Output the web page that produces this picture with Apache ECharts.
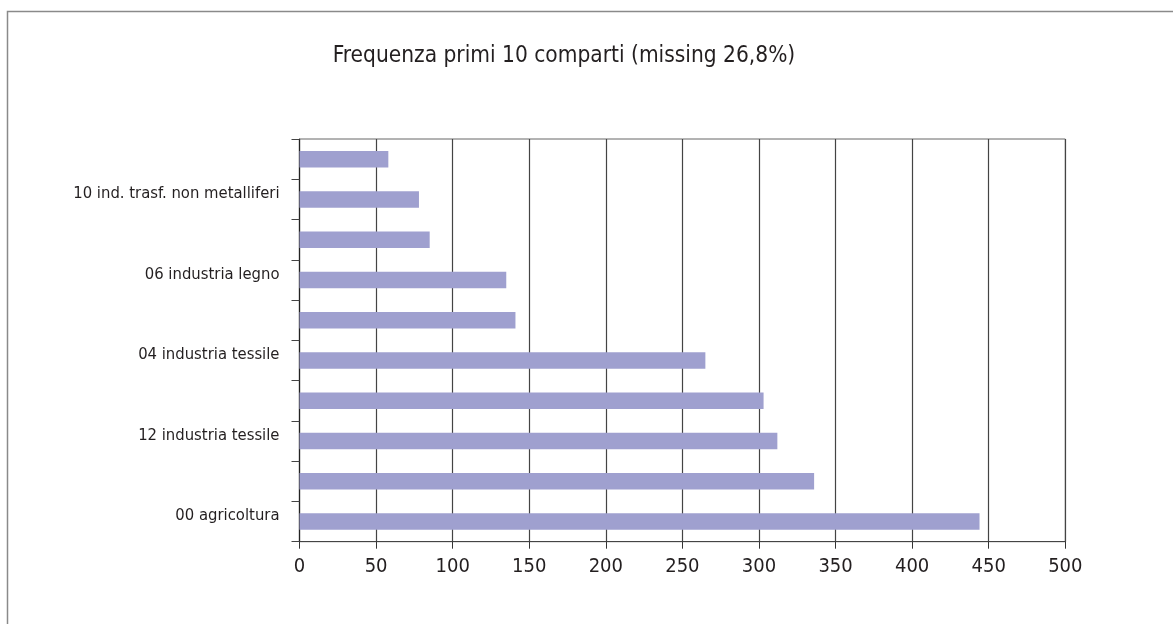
<!DOCTYPE html>
<html>
<head>
<meta charset="utf-8">
<script src="https://cdn.jsdelivr.net/npm/echarts@6/dist/echarts.min.js"></script>
<style>
html,body{margin:0;padding:0;background:#fff;}
#chart{width:1173px;height:624px;}
</style>
</head>
<body>
<div id="chart"></div>
<script>
// Categories bottom-to-top (hidden labels are not legible in the source)
const categories = ['00 agricoltura', '', '12 industria tessile', '', '04 industria tessile', '', '06 industria legno', '', '10 ind. trasf. non metalliferi', ''];
const values = [444, 336, 312, 303, 265, 141, 135, 85, 78, 58];
const xTicks = [0, 50, 100, 150, 200, 250, 300, 350, 400, 450, 500];
const titleText = 'Frequenza primi 10 comparti (missing 26,8%)';

const FONT = '"Liberation Sans Narrow", "DejaVu Sans Condensed", "Liberation Sans", sans-serif';
const chart = echarts.init(document.getElementById('chart'), null, {renderer: 'canvas'});
chart.setOption({
  backgroundColor: '#fff',
  animation: false,
  title: {
    text: titleText,
    left: 559, top: 40, textAlign: 'center',
    textStyle: {fontFamily: FONT, fontSize: 22.5, fontWeight: 'normal', color: '#231f20'}
  },
  graphic: [{
    type: 'rect', silent: true, z: -1,
    shape: {x: 7.5, y: 11.5, width: 1250, height: 700},
    style: {fill: 'none', stroke: '#8a8a8a', lineWidth: 1.5}
  }],
  grid: {left: 299.5, right: 107.7, top: 139, bottom: 82.3, show: true, borderColor: '#666', borderWidth: 1, backgroundColor: 'transparent'},
  xAxis: {
    type: 'value', min: xTicks[0], max: xTicks[xTicks.length - 1], interval: 50,
    axisLine: {show: true, lineStyle: {color: '#444', width: 1.2}},
    axisTick: {show: true, length: 7, lineStyle: {color: '#333'}},
    axisLabel: {fontFamily: FONT, fontSize: 20, color: '#231f20', margin: 15},
    splitLine: {show: true, lineStyle: {color: '#444', width: 1.2}}
  },
  yAxis: {
    type: 'category', data: categories,
    axisLine: {show: true, lineStyle: {color: '#222', width: 1.2}},
    axisTick: {show: true, interval: 0, length: 8, lineStyle: {color: '#444'}},
    axisLabel: {interval: 1, fontFamily: FONT, fontSize: 16.5, color: '#231f20', margin: 20, verticalAlign: 'bottom', lineHeight: 11},
    splitLine: {show: false}
  },
  series: [{
    type: 'bar', data: values, barWidth: 16.5,
    itemStyle: {color: '#9fa0cf'}
  }]
});
</script>
</body>
</html>
